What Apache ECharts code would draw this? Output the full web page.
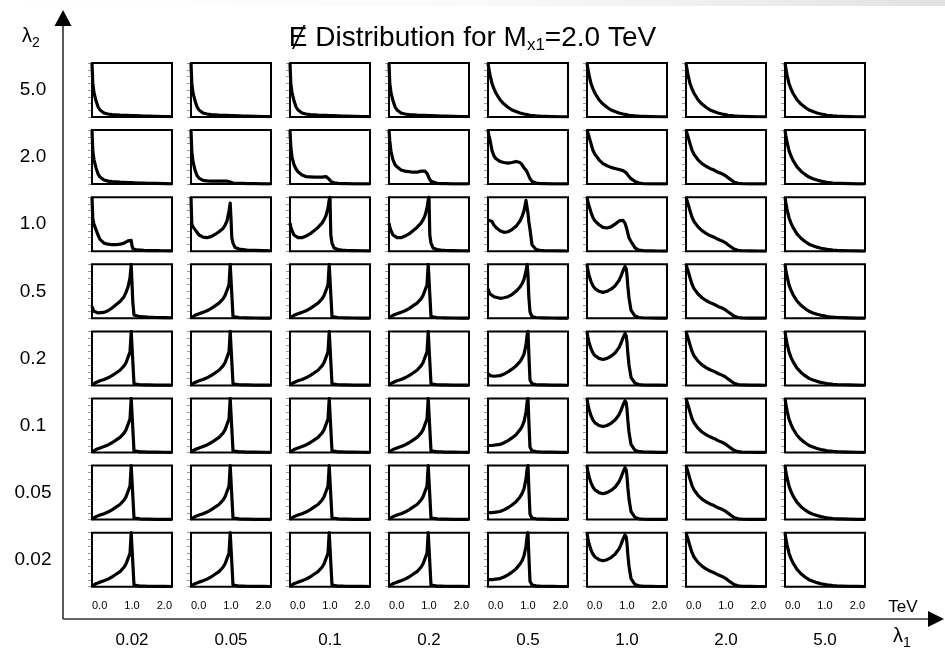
<!DOCTYPE html>
<html>
<head>
<meta charset="utf-8">
<script src="https://cdn.jsdelivr.net/npm/echarts@6/dist/echarts.min.js"></script>
<style>
  html, body { margin: 0; padding: 0; background: #fff; }
  #chart { width: 945px; height: 651px; }
</style>
</head>
<body>
<div id="chart"></div>
<script>
// Missing-energy bins (TeV) shared by every panel
const energyBins = [0, 0.02, 0.05, 0.1, 0.15, 0.2, 0.3, 0.4, 0.5, 0.6, 0.7, 0.8, 0.85, 0.9, 0.95, 0.98, 1.0, 1.02, 1.05, 1.1, 1.2, 1.3, 1.4, 1.6, 1.8, 2.0];

// Coupling values along each direction
const lambda1Labels = ['0.02', '0.05', '0.1', '0.2', '0.5', '1.0', '2.0', '5.0'];
const lambda2Labels = ['5.0', '2.0', '1.0', '0.5', '0.2', '0.1', '0.05', '0.02'];
const energyTicks = [0, 1, 2];

// Normalised distributions (peak = 1), one value per energy bin
const sharpDecay     = [1.00, 0.62, 0.45, 0.30, 0.19, 0.13, 0.075, 0.055, 0.045, 0.04, 0.035, 0.032, 0.03, 0.03, 0.028, 0.027, 0.026, 0.025, 0.024, 0.022, 0.02, 0.018, 0.015, 0.012, 0.009, 0.006];
const smoothDecay    = [1.00, 0.90, 0.78, 0.62, 0.52, 0.44, 0.32, 0.24, 0.18, 0.13, 0.10, 0.075, 0.065, 0.055, 0.048, 0.044, 0.04, 0.037, 0.033, 0.028, 0.02, 0.015, 0.012, 0.008, 0.005, 0.003];
const decayTinyBump  = [1.00, 0.60, 0.42, 0.26, 0.16, 0.11, 0.07, 0.06, 0.055, 0.055, 0.055, 0.055, 0.056, 0.056, 0.05, 0.04, 0.03, 0.025, 0.02, 0.018, 0.015, 0.012, 0.01, 0.008, 0.006, 0.004];
const plateauLow     = [1.00, 0.70, 0.50, 0.36, 0.28, 0.23, 0.17, 0.14, 0.135, 0.13, 0.13, 0.13, 0.135, 0.14, 0.12, 0.09, 0.07, 0.05, 0.035, 0.025, 0.015, 0.01, 0.008, 0.006, 0.004, 0.003];
const plateauMid     = [1.00, 0.80, 0.60, 0.45, 0.36, 0.32, 0.26, 0.24, 0.23, 0.22, 0.22, 0.24, 0.25, 0.24, 0.20, 0.15, 0.11, 0.08, 0.05, 0.03, 0.015, 0.01, 0.008, 0.006, 0.004, 0.003];
const plateauHigh    = [1.00, 0.90, 0.82, 0.62, 0.52, 0.47, 0.42, 0.40, 0.39, 0.40, 0.42, 0.40, 0.36, 0.30, 0.26, 0.22, 0.19, 0.15, 0.10, 0.05, 0.02, 0.01, 0.008, 0.006, 0.004, 0.003];
const plateauSlope   = [1.00, 0.95, 0.88, 0.75, 0.62, 0.55, 0.45, 0.38, 0.34, 0.31, 0.29, 0.27, 0.26, 0.25, 0.23, 0.21, 0.19, 0.17, 0.14, 0.10, 0.05, 0.02, 0.01, 0.006, 0.004, 0.003];
const shoulderDecay  = [1.00, 0.95, 0.88, 0.75, 0.63, 0.55, 0.45, 0.38, 0.33, 0.29, 0.26, 0.22, 0.20, 0.19, 0.17, 0.16, 0.15, 0.14, 0.12, 0.09, 0.04, 0.015, 0.008, 0.005, 0.004, 0.003];
const lowBumpAtOne   = [1.00, 0.60, 0.50, 0.40, 0.30, 0.22, 0.15, 0.13, 0.12, 0.12, 0.13, 0.15, 0.17, 0.19, 0.22, 0.20, 0.10, 0.05, 0.035, 0.025, 0.02, 0.015, 0.012, 0.01, 0.008, 0.006];
const dipPeakSpike   = [1.00, 0.50, 0.45, 0.40, 0.35, 0.30, 0.26, 0.25, 0.27, 0.31, 0.36, 0.42, 0.48, 0.56, 0.75, 0.89, 0.60, 0.25, 0.15, 0.07, 0.04, 0.03, 0.02, 0.015, 0.01, 0.008];
const dipPeakFull    = [0.52, 0.45, 0.38, 0.30, 0.27, 0.25, 0.25, 0.28, 0.32, 0.38, 0.44, 0.52, 0.58, 0.66, 0.80, 0.95, 1.00, 0.30, 0.15, 0.06, 0.03, 0.02, 0.015, 0.01, 0.008, 0.006];
const dipPeakHigh    = [0.58, 0.60, 0.61, 0.55, 0.48, 0.44, 0.38, 0.35, 0.36, 0.40, 0.46, 0.56, 0.64, 0.75, 0.94, 0.95, 0.70, 0.55, 0.40, 0.12, 0.03, 0.015, 0.01, 0.008, 0.006, 0.004];
const doubleHump     = [1.00, 0.92, 0.84, 0.72, 0.62, 0.56, 0.49, 0.44, 0.43, 0.45, 0.50, 0.56, 0.58, 0.57, 0.52, 0.45, 0.40, 0.33, 0.25, 0.18, 0.06, 0.02, 0.01, 0.006, 0.004, 0.003];
const shallowRise    = [0.22, 0.18, 0.13, 0.11, 0.10, 0.10, 0.11, 0.14, 0.19, 0.25, 0.31, 0.40, 0.48, 0.58, 0.75, 1.00, 1.00, 0.30, 0.06, 0.04, 0.03, 0.025, 0.02, 0.015, 0.012, 0.01];
const risingPeak     = [0.01, 0.02, 0.035, 0.055, 0.07, 0.085, 0.11, 0.14, 0.18, 0.23, 0.28, 0.36, 0.42, 0.52, 0.62, 1.00, 1.00, 1.00, 0.03, 0.015, 0.012, 0.01, 0.008, 0.006, 0.005, 0.004];
const offsetRise     = [0.55, 0.50, 0.45, 0.42, 0.40, 0.38, 0.37, 0.38, 0.40, 0.44, 0.50, 0.58, 0.64, 0.72, 0.88, 1.00, 0.80, 0.40, 0.12, 0.03, 0.015, 0.01, 0.008, 0.006, 0.004, 0.003];
const dipPeakWide    = [1.00, 0.90, 0.80, 0.68, 0.60, 0.55, 0.50, 0.48, 0.50, 0.54, 0.60, 0.70, 0.78, 0.88, 0.96, 0.92, 0.80, 0.60, 0.38, 0.15, 0.04, 0.015, 0.01, 0.006, 0.004, 0.003];
const lowRise        = [0.22, 0.20, 0.18, 0.17, 0.17, 0.17, 0.18, 0.21, 0.25, 0.30, 0.36, 0.44, 0.50, 0.58, 0.75, 0.95, 1.00, 0.60, 0.10, 0.03, 0.015, 0.01, 0.008, 0.006, 0.004, 0.003];
const lowRiseFlat    = [0.13, 0.13, 0.13, 0.13, 0.13, 0.14, 0.15, 0.18, 0.22, 0.27, 0.33, 0.42, 0.48, 0.57, 0.75, 0.95, 1.00, 0.60, 0.10, 0.03, 0.015, 0.01, 0.008, 0.006, 0.004, 0.003];

// Which distribution sits in each cell: rows follow lambda2Labels, columns lambda1Labels
const panelShapes = [
  [sharpDecay, sharpDecay, sharpDecay, sharpDecay, smoothDecay, smoothDecay, smoothDecay, smoothDecay],
  [sharpDecay, decayTinyBump, plateauLow, plateauMid, plateauHigh, plateauSlope, shoulderDecay, smoothDecay],
  [lowBumpAtOne, dipPeakSpike, dipPeakFull, dipPeakFull, dipPeakHigh, doubleHump, shoulderDecay, smoothDecay],
  [shallowRise, risingPeak, risingPeak, risingPeak, offsetRise, dipPeakWide, shoulderDecay, smoothDecay],
  [risingPeak, risingPeak, risingPeak, risingPeak, lowRise, dipPeakWide, shoulderDecay, smoothDecay],
  [risingPeak, risingPeak, risingPeak, risingPeak, lowRiseFlat, dipPeakWide, shoulderDecay, smoothDecay],
  [risingPeak, risingPeak, risingPeak, risingPeak, lowRiseFlat, dipPeakWide, shoulderDecay, smoothDecay],
  [risingPeak, risingPeak, risingPeak, risingPeak, lowRiseFlat, dipPeakWide, shoulderDecay, smoothDecay]
];

// Panel layout (pixels)
const PANEL_LEFT = 92, PANEL_STEP_X = 99, PANEL_W = 80;
const PANEL_TOP = 63, PANEL_STEP_Y = 67.1, PANEL_H = 54;
const AXIS_X = 63, AXIS_Y = 619;
const FONT = '"Liberation Sans", Arial, Helvetica, sans-serif';

const grids = [], xAxes = [], yAxes = [], series = [];
const nRows = lambda2Labels.length, nCols = lambda1Labels.length;

for (let r = 0; r < nRows; r++) {
  for (let c = 0; c < nCols; c++) {
    const idx = grids.length;
    const bottomRow = r === nRows - 1;
    grids.push({
      left: PANEL_LEFT + c * PANEL_STEP_X,
      top: PANEL_TOP + r * PANEL_STEP_Y,
      width: PANEL_W,
      height: PANEL_H,
      show: true,
      backgroundColor: '#fff',
      borderColor: '#000',
      borderWidth: 2,
      z: 1
    });
    xAxes.push({
      gridIndex: idx,
      type: 'value',
      min: 0,
      max: 2,
      interval: 0.25,
      axisLine: { show: false },
      splitLine: { show: false },
      axisTick: { show: true, inside: true, length: 2, lineStyle: { color: '#444', width: 1 } },
      axisLabel: bottomRow ? {
        show: true,
        customValues: energyTicks,
        formatter: v => v.toFixed(1),
        fontSize: 11,
        fontFamily: FONT,
        color: '#000',
        margin: 14,
        alignMinLabel: 'left',
        alignMaxLabel: 'right'
      } : { show: false }
    });
    yAxes.push({
      gridIndex: idx,
      type: 'value',
      min: 0,
      max: 1,
      interval: 0.125,
      axisLine: { show: false },
      splitLine: { show: false },
      axisLabel: { show: false },
      axisTick: { show: true, inside: false, length: 4, lineStyle: { color: '#999', width: 1 } }
    });
    const shape = panelShapes[r][c];
    series.push({
      type: 'line',
      xAxisIndex: idx,
      yAxisIndex: idx,
      data: energyBins.map((e, k) => [e, shape[k]]),
      showSymbol: false,
      clip: true,
      silent: true,
      lineStyle: { color: '#000', width: 3.2, join: 'round' },
      z: 3
    });
  }
}

// Outer coupling axes, arrows and labels
const graphics = [
  {
    type: 'rect', shape: { x: 0, y: 0, width: 945, height: 6 }, silent: true,
    style: { fill: new echarts.graphic.LinearGradient(0, 0, 1, 0, [
      { offset: 0, color: 'rgba(235,235,235,0)' },
      { offset: 0.45, color: 'rgba(235,235,235,0.2)' },
      { offset: 1, color: 'rgba(225,225,225,1)' }
    ]) }
  },
  { type: 'line', shape: { x1: AXIS_X, y1: 24, x2: AXIS_X, y2: AXIS_Y }, style: { stroke: '#222', lineWidth: 1.5 } },
  { type: 'line', shape: { x1: AXIS_X, y1: AXIS_Y, x2: 930, y2: AXIS_Y }, style: { stroke: '#333', lineWidth: 1.5 } },
  { type: 'polygon', shape: { points: [[AXIS_X, 10], [AXIS_X - 8.5, 26], [AXIS_X + 8.5, 26]] }, style: { fill: '#000' } },
  { type: 'polygon', shape: { points: [[944, AXIS_Y], [928, AXIS_Y - 8], [928, AXIS_Y + 8]] }, style: { fill: '#000' } },
  {
    type: 'text', left: 22, top: 26,
    style: {
      text: '{l|λ}{s|2}',
      rich: {
        l: { fontSize: 20, fontFamily: FONT, fill: '#000' },
        s: { fontSize: 14, fontFamily: FONT, fill: '#000', padding: [14, 0, 0, 0] }
      }
    }
  },
  {
    type: 'text', left: 893, top: 626,
    style: {
      text: '{l|λ}{s|1}',
      rich: {
        l: { fontSize: 20, fontFamily: FONT, fill: '#000' },
        s: { fontSize: 14, fontFamily: FONT, fill: '#000', padding: [14, 0, 0, 0] }
      }
    }
  },
  {
    type: 'text', x: 903, y: 607,
    style: { text: 'TeV', fontSize: 17, fontFamily: FONT, fill: '#000', align: 'center', verticalAlign: 'middle' }
  }
];

lambda2Labels.forEach((lab, r) => {
  graphics.push({
    type: 'text',
    x: 33, y: PANEL_TOP + r * PANEL_STEP_Y + PANEL_H / 2,
    style: { text: lab, fontSize: 19, fontFamily: FONT, fill: '#000', align: 'center', verticalAlign: 'middle' }
  });
});
lambda1Labels.forEach((lab, c) => {
  graphics.push({
    type: 'text',
    x: PANEL_LEFT + c * PANEL_STEP_X + PANEL_W / 2, y: 640,
    style: { text: lab, fontSize: 17, fontFamily: FONT, fill: '#000', align: 'center', verticalAlign: 'middle' }
  });
});

const chart = echarts.init(document.getElementById('chart'), null, { renderer: 'canvas' });
chart.setOption({
  animation: false,
  backgroundColor: '#fff',
  title: {
    left: 'center',
    top: 17,
    text: '{m|Ɇ Distribution for M}{s|x1}{m|=2.0 TeV}',
    textStyle: {
      fontWeight: 'normal',
      rich: {
        m: { fontSize: 28, fontWeight: 'normal', fontFamily: FONT, color: '#000' },
        s: { fontSize: 17, fontWeight: 'normal', fontFamily: FONT, color: '#000', padding: [15, 0, 0, 0] }
      }
    }
  },
  grid: grids,
  xAxis: xAxes,
  yAxis: yAxes,
  series: series,
  graphic: graphics
});
</script>
</body>
</html>
